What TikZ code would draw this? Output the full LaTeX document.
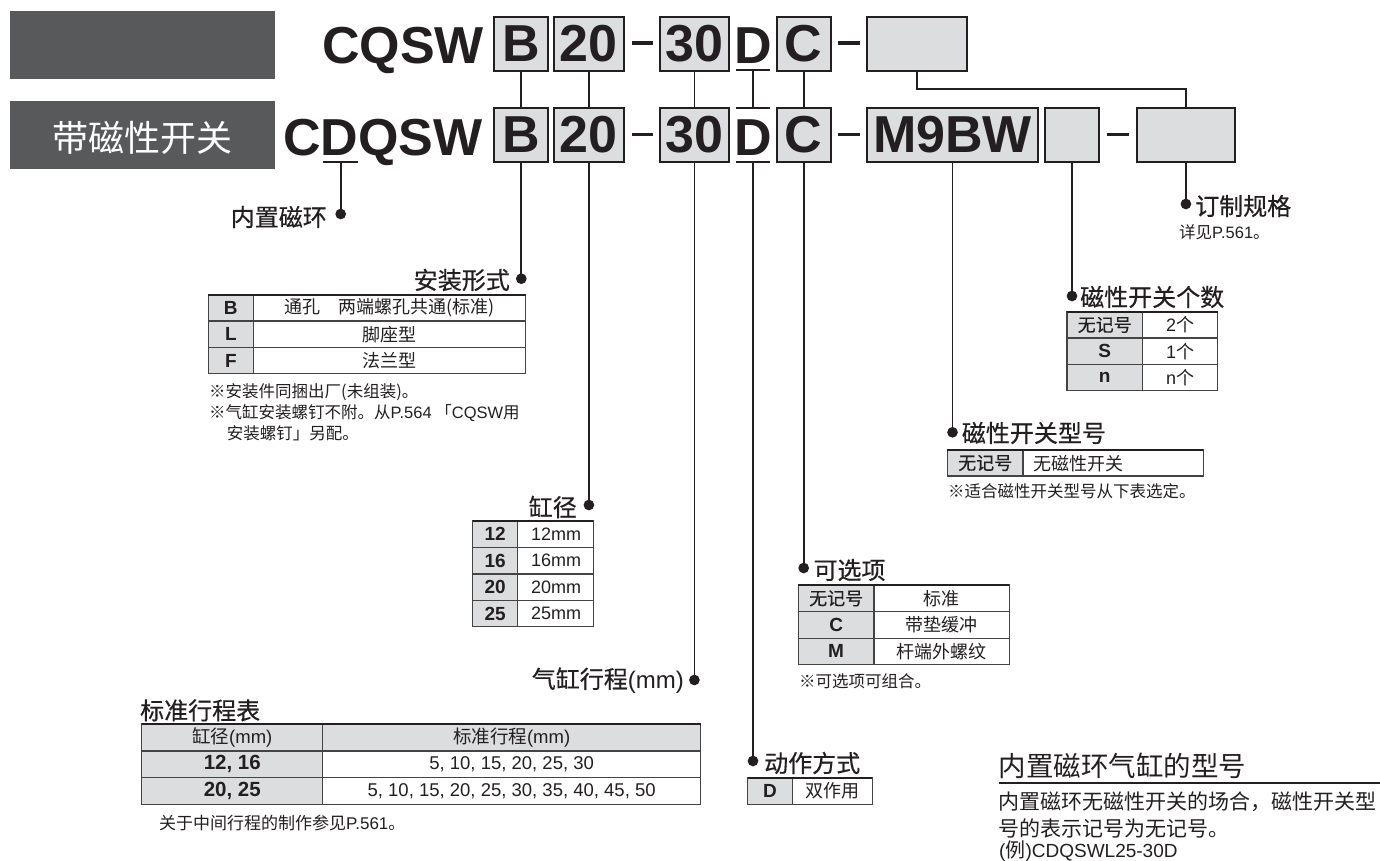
\documentclass[tikz,border=0pt]{standalone}
\usepackage{fontspec}
\setmainfont{Liberation Sans}
\newfontfamily\cj{Noto Sans CJK SC}
\newfontfamily\cjm[FakeBold=0.5]{Noto Sans CJK SC}
\newfontfamily\lat{Liberation Sans}
\newcommand\fsz[1]{\fontsize{#1}{#1}\selectfont}
\definecolor{ink}{HTML}{231F20}
\definecolor{hdr}{HTML}{58595B}
\definecolor{boxg}{HTML}{DCDDDF}
\definecolor{tl}{HTML}{444444}
\tikzset{
  codebox/.style={draw=ink, line width=2, fill=boxg, minimum height=54, inner sep=0, font=\bfseries\fsz{52}, text=ink},
  bigtxt/.style={font=\bfseries\fsz{52}, text=ink, inner sep=0},
  conn/.style={draw=ink, line width=1.8},
  hyph/.style={draw=ink, line width=3.6},
  dot/.style={circle, fill=ink, inner sep=0, minimum size=10.7},
  lbl/.style={font=\cjm\fsz{24}, text=ink, inner sep=0},
  note/.style={font=\cj\fsz{16.5}, text=ink, inner sep=0, anchor=base west},
  tthin/.style={draw=tl, line width=1.2},
  ttop/.style={draw=ink, line width=2.4},
  tc/.style={font=\cj\fsz{18}, text=ink, inner sep=0},
  tcm/.style={font=\cjm\fsz{18}, text=ink, inner sep=0},
  tlat/.style={font=\fsz{18}, text=ink, inner sep=0},
  tb/.style={font=\bfseries\fsz{19}, text=ink, inner sep=0},
}
\begin{document}
\begin{tikzpicture}[x=1pt,y=-1pt]
\useasboundingbox (0,0) rectangle (1380,861);

% header boxes
\node[fill=hdr, minimum width=264.6, minimum height=67.7, inner sep=0] (hdr1) at (142.3,44.85) {};
\node[fill=hdr, minimum width=264.6, minimum height=67.7, inner sep=0] (hdr2) at (142.3,134.85) {};
\node[font=\cj\fsz{36}, text=white, inner sep=0] (hdr2t) at (142.3,137.5) {带磁性开关};

% top row
\node[bigtxt, anchor=base west] (tname) at (322,64) {CQSW};
\node[codebox, minimum width=54] (tB) at (521.3,44) {B};
\node[codebox, minimum width=69.7] (t20) at (588.9,44) {20};
\draw[hyph] (631.7,43) -- (653,43);
\node[codebox, minimum width=68.7] (t30) at (694.4,44) {30};
\node[bigtxt, anchor=base] (tD) at (753,64) {D};
\draw[conn] (736,70) -- (770,70);
\node[codebox, minimum width=54] (tC) at (803.7,44) {C};
\draw[hyph] (838,43) -- (860,43);
\node[codebox, minimum width=99.7] (tX) at (916.9,44) {};

% bottom row
\node[bigtxt, anchor=base west] (bname) at (283,156) {CDQSW};
\draw[conn] (323,161.7) -- (358,161.7);
\node[codebox, minimum width=54] (bB) at (521.3,135) {B};
\node[codebox, minimum width=69.7] (b20) at (588.9,135) {20};
\draw[hyph] (631.7,134.5) -- (653,134.5);
\node[codebox, minimum width=68.7] (b30) at (694.4,135) {30};
\node[bigtxt, anchor=base] (bD) at (753,156) {D};
\draw[conn] (736,108) -- (770,108);
\draw[conn] (736,162) -- (770,162);
\node[codebox, minimum width=54] (bC) at (803.7,135) {C};
\draw[hyph] (838,134.5) -- (860,134.5);
\node[codebox, minimum width=171] (bM) at (952.5,135) {M9BW};
\node[codebox, minimum width=54] (bS) at (1072,135) {};
\draw[hyph] (1106.7,134.5) -- (1129,134.5);
\node[codebox, minimum width=98.3] (bL) at (1185.9,135) {};

% coordinates for D marks
\coordinate (tDu) at (753,70);
\coordinate (bDo) at (753,108);
\coordinate (bDu) at (753,162);
\coordinate (magU) at (340.7,161.7);

% dots
\node[dot] (dMag) at (340.7,214) {};
\node[dot] (dB) at (521.3,278.7) {};
\node[dot] (d20) at (588.9,505) {};
\node[dot] (d30) at (694.4,680) {};
\node[dot] (dD) at (753,761) {};
\node[dot] (dC) at (803.7,568) {};
\node[dot] (dM) at (952.5,432.3) {};
\node[dot] (dS) at (1072,296) {};
\node[dot] (dL) at (1185.9,204) {};

% connectors between rows
\draw[conn] (tB.south) -- (bB.north);
\draw[conn] (t20.south) -- (b20.north);
\draw[conn] (t30.south) -- (b30.north);
\draw[conn] (tDu) -- (bDo);
\draw[conn] (tC.south) -- (bC.north);
\draw[conn] (tX.south) -- (tX.south |- 0,89.3) -| (bL.north);

% connectors down to dots
\draw[conn] (magU) -- (dMag.center);
\draw[conn] (bB.south) -- (dB.center);
\draw[conn] (b20.south) -- (d20.center);
\draw[conn] (b30.south) -- (d30.center);
\draw[conn] (bDu) -- (dD.center);
\draw[conn] (bC.south) -- (dC.center);
\draw[conn] (bM.south) -- (dM.center);
\draw[conn] (bS.south) -- (dS.center);
\draw[conn] (bL.south) -- (dL.center);

% labels
\node[lbl, anchor=east] (lMag) at (327,217) {内置磁环};
\node[lbl, anchor=east] (lB) at (510,280) {安装形式};
\node[lbl, anchor=east] (l20) at (577,507) {缸径};
\node[lbl, anchor=base east, font=\fsz{24}] (l30) at (684,688) {{\cjm 气缸行程}(mm)};
\node[lbl, anchor=west] (lD) at (764,763) {动作方式};
\node[lbl, anchor=west] (lC) at (813.3,570) {可选项};
\node[lbl, anchor=west] (lM) at (961.7,433) {磁性开关型号};
\node[lbl, anchor=west] (lS) at (1080,297) {磁性开关个数};
\node[lbl, anchor=west] (lL) at (1195,206) {订制规格};
\node[note] (nL) at (1179,238) {详见{\lat P.561}。};

% table 1: mounting
\fill[boxg] (208.3,295) rectangle (253.3,373.7);
\draw[tthin] (208.3,295) rectangle (525.7,373.7);
\draw[tthin] (208.3,321) -- (525.7,321) (208.3,347.7) -- (525.7,347.7) (253.3,295) -- (253.3,373.7);
\draw[ttop] (208.3,295) -- (525.7,295);
\node[tb] (t1a) at (230.8,308) {B};
\node[tc] (t1b) at (389.5,308) {通孔　两端螺孔共通(标准)};
\node[tb] (t1c) at (230.8,334.35) {L};
\node[tc] (t1d) at (389.5,334.35) {脚座型};
\node[tb] (t1e) at (230.8,360.7) {F};
\node[tc] (t1f) at (389.5,360.7) {法兰型};
\node[note] (n1a) at (209,397) {※安装件同捆出厂(未组装)。};
\node[note] (n1b) at (209,418.5) {※气缸安装螺钉不附。从{\lat P.564} 「{\lat CQSW}用};
\node[note] (n1c) at (226.7,439) {安装螺钉」另配。};

% table 2: bore
\fill[boxg] (472.7,520.7) rectangle (517.7,626.7);
\draw[tthin] (472.7,520.7) rectangle (593.3,626.7);
\draw[tthin] (472.7,547.3) -- (593.3,547.3) (472.7,574) -- (593.3,574) (472.7,600.7) -- (593.3,600.7) (517.7,520.7) -- (517.7,626.7);
\draw[ttop] (472.7,520.7) -- (593.3,520.7);
\node[tb] (t2a) at (495.2,534) {12};
\node[tlat] (t2b) at (556,534) {12mm};
\node[tb] (t2c) at (495.2,560.65) {16};
\node[tlat] (t2d) at (556,560.65) {16mm};
\node[tb] (t2e) at (495.2,587.35) {20};
\node[tlat] (t2f) at (556,587.35) {20mm};
\node[tb] (t2g) at (495.2,613.7) {25};
\node[tlat] (t2h) at (556,613.7) {25mm};

% table 3: standard strokes
\node[lbl, anchor=base west] (t3t) at (140,719.5) {标准行程表};
\fill[boxg] (141.8,724) rectangle (700.5,751);
\fill[boxg] (141.8,751) rectangle (322.8,804.3);
\draw[tthin] (141.8,724) rectangle (700.5,804.3);
\draw[tthin] (141.8,751) -- (700.5,751) (141.8,777.7) -- (700.5,777.7) (322.8,724) -- (322.8,804.3);
\draw[ttop] (141.8,724) -- (700.5,724);
\node[tlat, font=\fsz{18.5}] (t3a) at (232.3,737.5) {{\cj 缸径}(mm)};
\node[tlat, font=\fsz{18.5}] (t3b) at (511.65,737.5) {{\cj 标准行程}(mm)};
\node[tb, font=\bfseries\fsz{20.5}] (t3c) at (232.3,764.35) {12, 16};
\node[tlat, font=\fsz{18.5}] (t3d) at (511.65,764.35) {5, 10, 15, 20, 25, 30};
\node[tb, font=\bfseries\fsz{20.5}] (t3e) at (232.3,791) {20, 25};
\node[tlat, font=\fsz{18.5}] (t3f) at (511.65,791) {5, 10, 15, 20, 25, 30, 35, 40, 45, 50};
\node[note, font=\cj\fsz{17}] (n3) at (159,829.5) {关于中间行程的制作参见{\lat P.561}。};

% table 4: options
\fill[boxg] (798.3,585) rectangle (874,664.3);
\draw[tthin] (798.3,585) rectangle (1009.3,664.3);
\draw[tthin] (798.3,611.7) -- (1009.3,611.7) (798.3,638.3) -- (1009.3,638.3) (874,585) -- (874,664.3);
\draw[ttop] (798.3,585) -- (1009.3,585);
\node[tcm] (t4a) at (836.15,598.35) {无记号};
\node[tc] (t4b) at (941.65,598.35) {标准};
\node[tb] (t4c) at (836.15,625) {C};
\node[tc] (t4d) at (941.65,625) {带垫缓冲};
\node[tb] (t4e) at (836.15,651.3) {M};
\node[tc] (t4f) at (941.65,651.3) {杆端外螺纹};
\node[note] (n4) at (799,687.5) {※可选项可组合。};

% table 5: action
\fill[boxg] (747.7,777.7) rectangle (792.3,804.3);
\draw[tthin] (747.7,777.7) rectangle (872.3,804.3);
\draw[tthin] (792.3,777.7) -- (792.3,804.3);
\draw[ttop] (747.7,777.7) -- (872.3,777.7);
\node[tb] (t5a) at (770,791) {D};
\node[tc] (t5b) at (832.3,791) {双作用};

% table 6: switch model
\fill[boxg] (947.4,450) rectangle (1023,476);
\draw[tthin] (947.4,450) rectangle (1203.3,476);
\draw[tthin] (1023,450) -- (1023,476);
\draw[ttop] (947.4,450) -- (1203.3,450);
\node[tcm] (t6a) at (985.2,463) {无记号};
\node[tc, anchor=west] (t6b) at (1033,463.5) {无磁性开关};
\node[note] (n6) at (947.8,497.5) {※适合磁性开关型号从下表选定。};

% table 7: switch count
\fill[boxg] (1067,311.7) rectangle (1142.4,390.7);
\draw[tthin] (1067,311.7) rectangle (1217.5,390.7);
\draw[tthin] (1067,338) -- (1217.5,338) (1067,364.3) -- (1217.5,364.3) (1142.4,311.7) -- (1142.4,390.7);
\draw[ttop] (1067,311.7) -- (1217.5,311.7);
\node[tcm] (t7a) at (1104.7,324.85) {无记号};
\node[tc] (t7b) at (1180,324.85) {{\lat 2}个};
\node[tb] (t7c) at (1104.7,351.15) {S};
\node[tc] (t7d) at (1180,351.15) {{\lat 1}个};
\node[tb] (t7e) at (1104.7,377.5) {n};
\node[tc] (t7f) at (1180,377.5) {{\lat n}个};

% built-in magnet block
\node[font=\cj\fsz{27.5}, text=ink, inner sep=0, anchor=base west] (hh) at (998.5,776) {内置磁环气缸的型号};
\coordinate (hul) at (999,782.5);
\coordinate (hur) at (1380,782.5);
\draw[draw=ink, line width=2] (hul) -- (hur);
\node[font=\cj\fsz{21}, text=ink, inner sep=0, anchor=base west] (hb1) at (998.5,809.5) {内置磁环无磁性开关的场合，磁性开关型};
\node[font=\cj\fsz{21}, text=ink, inner sep=0, anchor=base west] (hb2) at (998.5,836) {号的表示记号为无记号。};
\node[font=\fsz{19}, text=ink, inner sep=0, anchor=base west] (hb3) at (999,857.5) {({\cj\fsz{20}例})CDQSWL25-30D};
\end{tikzpicture}
\end{document}
